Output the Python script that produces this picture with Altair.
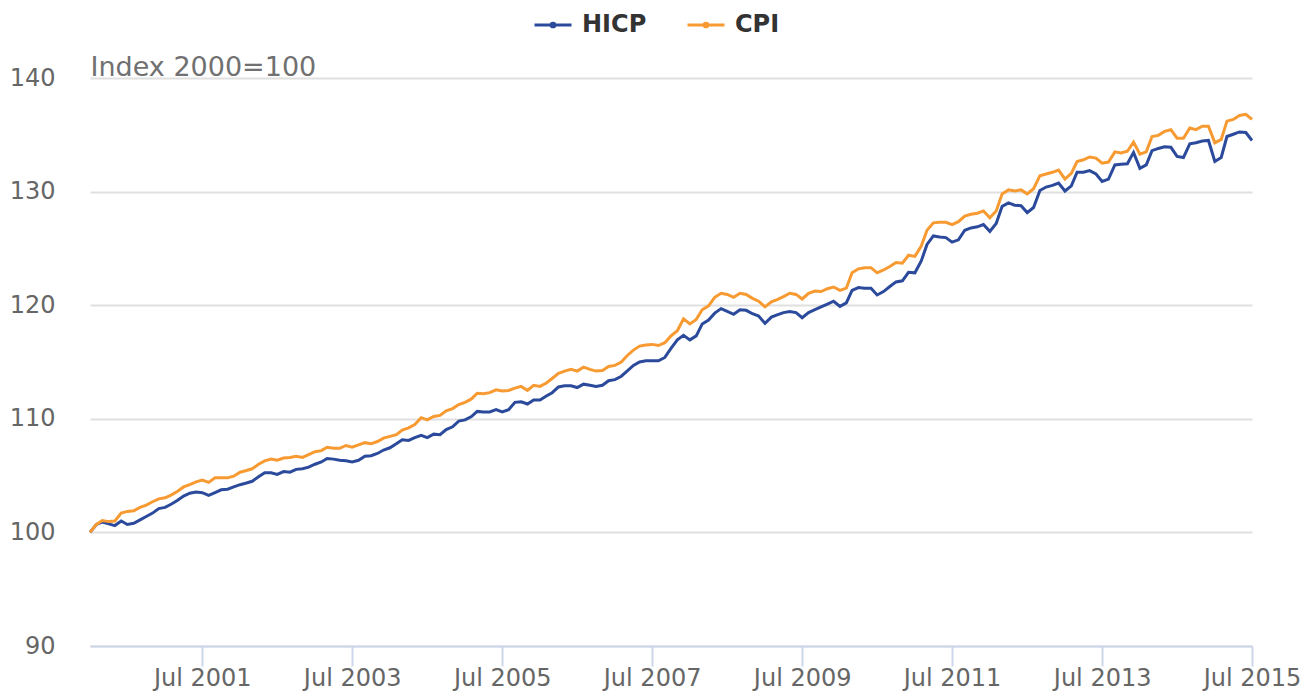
import altair as alt
import pandas as pd

# Monthly index values, Jan 2000 .. Jul 2015 (Index 2000=100)
hicp = [
    100.0, 100.7, 100.9, 100.75, 100.6, 101.0, 100.7, 100.8, 101.1, 101.4, 101.7, 102.1,
    102.2, 102.5, 102.8, 103.2, 103.45, 103.55, 103.5, 103.25, 103.5, 103.75, 103.8, 104.0,
    104.2, 104.35, 104.5, 104.9, 105.25, 105.25, 105.1, 105.35, 105.3, 105.55, 105.6, 105.75,
    106.0, 106.2, 106.5, 106.45, 106.35, 106.3, 106.2, 106.35, 106.7, 106.75, 106.95, 107.25,
    107.45, 107.8, 108.15, 108.1, 108.35, 108.55, 108.35, 108.65, 108.6, 109.05, 109.3, 109.8,
    109.9, 110.2, 110.65, 110.6, 110.6, 110.8, 110.6, 110.8, 111.45, 111.5, 111.3, 111.65,
    111.65, 112.0, 112.3, 112.8, 112.9, 112.9, 112.75, 113.05, 112.95, 112.85, 112.95, 113.35,
    113.45, 113.75, 114.2, 114.7, 115.0, 115.1, 115.1, 115.1, 115.4, 116.2, 116.95, 117.35,
    116.95, 117.3, 118.35, 118.7, 119.3, 119.7, 119.45, 119.2, 119.6, 119.55, 119.25, 119.05,
    118.4, 118.95, 119.15, 119.35, 119.45, 119.35, 118.9, 119.35, 119.6, 119.85, 120.1, 120.35,
    119.9, 120.2, 121.3, 121.55, 121.5, 121.5, 120.9, 121.2, 121.65, 122.05, 122.15, 122.9,
    122.85, 123.9, 125.35, 126.1, 126.0, 125.95, 125.55, 125.75, 126.6, 126.8, 126.9, 127.1,
    126.5, 127.2, 128.7, 129.0, 128.8, 128.75, 128.15, 128.6, 130.1, 130.4, 130.55, 130.75,
    130.05, 130.5, 131.7, 131.7, 131.85, 131.55, 130.9, 131.1, 132.35, 132.4, 132.45, 133.45,
    132.05, 132.35, 133.6, 133.8, 133.95, 133.9, 133.1, 133.0, 134.2, 134.3, 134.45, 134.5,
    132.65, 133.0, 134.85, 135.05, 135.25, 135.2, 134.5,
]
cpi = [
    100.0, 100.7, 101.05, 100.95, 101.0, 101.7, 101.85, 101.9, 102.2, 102.4, 102.7, 102.95,
    103.05, 103.3, 103.6, 104.0, 104.2, 104.45, 104.6, 104.4, 104.8, 104.8, 104.8, 104.95,
    105.3, 105.45, 105.6, 106.0, 106.3, 106.45, 106.35, 106.55, 106.6, 106.7, 106.6, 106.85,
    107.1, 107.2, 107.5, 107.4, 107.4, 107.65, 107.5, 107.7, 107.9, 107.8, 108.0, 108.3,
    108.45, 108.6, 109.0, 109.2, 109.5, 110.1, 109.9, 110.2, 110.3, 110.7, 110.9, 111.25,
    111.45, 111.75, 112.25, 112.2, 112.3, 112.55, 112.45, 112.5, 112.7, 112.85, 112.5, 112.95,
    112.85, 113.15, 113.55, 114.0, 114.2, 114.35, 114.2, 114.55, 114.35, 114.2, 114.25, 114.6,
    114.7, 115.0, 115.55, 116.05, 116.4, 116.5, 116.55, 116.45, 116.7, 117.3, 117.75, 118.8,
    118.35, 118.75, 119.6, 119.95, 120.7, 121.05, 120.95, 120.7, 121.05, 120.95, 120.6, 120.35,
    119.85, 120.3, 120.5, 120.75, 121.05, 120.95, 120.55, 121.05, 121.25, 121.2, 121.45, 121.6,
    121.3, 121.5, 122.85, 123.2, 123.3, 123.3, 122.85, 123.1, 123.4, 123.75, 123.7, 124.4,
    124.3, 125.2, 126.6, 127.25, 127.3, 127.3, 127.1, 127.35, 127.85, 128.0, 128.1, 128.3,
    127.7, 128.3, 129.8, 130.15, 130.05, 130.15, 129.8, 130.25, 131.4, 131.55, 131.7, 131.9,
    131.1, 131.6, 132.65, 132.8, 133.05, 132.95, 132.5, 132.6, 133.5, 133.4, 133.55, 134.35,
    133.3, 133.5, 134.85, 134.95, 135.3, 135.45, 134.7, 134.7, 135.6, 135.45, 135.75, 135.75,
    134.3, 134.6, 136.2, 136.35, 136.7, 136.8, 136.35,
]
months = [f"{y}-{m:02d}-01" for y in range(2000, 2016) for m in range(1, 13)][: len(hicp)]
series_names = ["HICP", "CPI"]
series_colors = ["#2b4a9b", "#f79a32"]
y_ticks = [90, 100, 110, 120, 130, 140]
x_tick_years = [2001, 2003, 2005, 2007, 2009, 2011, 2013, 2015]

df = pd.concat([
    pd.DataFrame({"date": months, "value": hicp, "series": "HICP"}),
    pd.DataFrame({"date": months, "value": cpi, "series": "CPI"}),
])

legend_path = "M-1,0H1M-0.1,0A0.1,0.1,0,1,0,0.1,0A0.1,0.1,0,1,0,-0.1,0Z"

chart = alt.Chart(df).mark_line(strokeWidth=3).encode(
    x=alt.X(
        "date:T",
        scale=alt.Scale(
            type="utc",
            domain=[alt.DateTime(year=2000, month=1, date=1, utc=True),
                    alt.DateTime(year=2015, month=7, date=1, utc=True)],
        ),
        axis=alt.Axis(
            values=[alt.DateTime(year=y, month=7, date=1, utc=True) for y in x_tick_years],
            format="%b %Y",
            title=None,
            grid=False,
            domainColor="#ccd6eb",
            domainWidth=2,
            tickColor="#ccd6eb",
            tickWidth=2,
            tickSize=20,
            labelFontSize=24,
            labelColor="#666666",
            labelFont="DejaVu Sans",
            labelPadding=0,
            labelFlush=False,
            labelOverlap=False,
            zindex=1,
        ),
    ),
    y=alt.Y(
        "value:Q",
        scale=alt.Scale(domain=[90, 140], nice=False, zero=False),
        axis=alt.Axis(
            values=y_ticks,
            title="Index 2000=100",
            titleAngle=0,
            titleAlign="left",
            titleBaseline="alphabetic",
            titleX=0,
            titleY=-3,
            titleFontSize=27,
            titleFontWeight="normal",
            titleColor="#707070",
            titleFont="DejaVu Sans",
            domain=False,
            ticks=False,
            tickSize=0,
            gridColor="#e0e0e0",
            gridWidth=2,
            labelFontSize=24,
            labelColor="#666666",
            labelFont="DejaVu Sans",
            labelPadding=35,
        ),
    ),
    color=alt.Color(
        "series:N",
        scale=alt.Scale(domain=series_names, range=series_colors),
        legend=alt.Legend(
            title=None,
            orient="none",
            direction="horizontal",
            legendX=443,
            legendY=-73,
            symbolType=legend_path,
            symbolSize=1369,
            symbolStrokeWidth=3,
            labelFontSize=24,
            labelFontWeight="bold",
            labelColor="#333333",
            labelFont="DejaVu Sans",
            labelOffset=9,
            columnPadding=34,
        ),
    ),
).properties(
    width=1162,
    height=568,
    padding={"left": 82, "top": 70, "right": 50, "bottom": 54},
    autosize=alt.AutoSizeParams(type="none"),
).configure_view(stroke=None)

chart.save("out.html", embed_options={"renderer": "svg", "actions": False})
